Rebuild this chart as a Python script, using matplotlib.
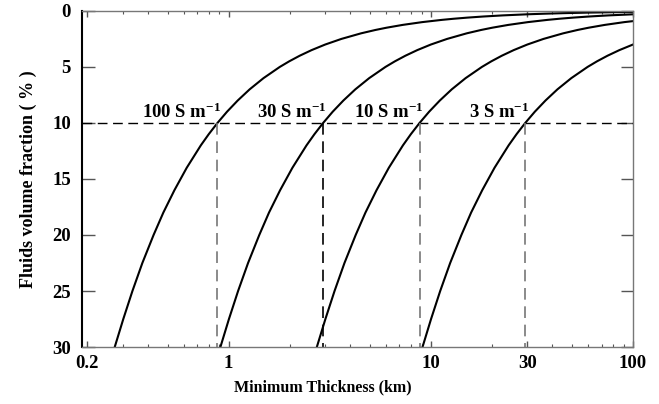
import matplotlib
matplotlib.use('Agg')
import matplotlib.pyplot as plt
from matplotlib.ticker import FixedLocator, NullFormatter, LogLocator

# fluid volume fraction (%) and read-off minimum thickness (km) per conductivity
fraction = [30, 27.5, 25, 22.5, 20, 18, 16, 14, 12, 11, 10, 9, 8, 7, 6, 5, 4.5, 4,
            3.5, 3, 2.5, 2, 1.7, 1.5, 1.25, 1, 0.8, 0.7, 0.6, 0.5, 0.4, 0.3,
            0.25, 0.2, 0.15, 0.1, 0.09]
thick_100 = [0.273, 0.301, 0.334, 0.374, 0.425, 0.475, 0.539, 0.620, 0.728, 0.797,
             0.880, 0.981, 1.108, 1.270, 1.487, 1.790, 1.993, 2.246, 2.571, 3.004,
             3.611, 4.521, 5.325, 6.039, 7.252, 9.073, 11.35, 12.97, 15.14, 18.18,
             22.73, 30.31, 36.38, 45.49, 60.66, 91.0, 101.1]
thick_30 = [0.910, 1.003, 1.113, 1.247, 1.417, 1.583, 1.797, 2.067, 2.427, 2.657,
            2.933, 3.270, 3.693, 4.233, 4.957, 5.967, 6.643, 7.487, 8.570, 10.01,
            12.04, 15.07, 17.75, 20.13, 24.17, 30.24, 37.83, 43.23, 50.47, 60.60,
            75.77, 101.0]
thick_10 = [2.73, 3.01, 3.34, 3.74, 4.25, 4.75, 5.39, 6.20, 7.28, 7.97,
            8.80, 9.81, 11.08, 12.70, 14.87, 17.90, 19.93, 22.46, 25.71, 30.04,
            36.11, 45.21, 53.25, 60.39, 72.52, 90.73, 113.5]
thick_3 = [9.10, 10.03, 11.13, 12.47, 14.17, 15.83, 17.97, 20.67, 24.27, 26.57,
           29.33, 32.70, 36.93, 42.33, 49.57, 59.67, 66.43, 74.87, 85.70, 100.1]

conductivity_labels = ['100', '30', '10', '3']
cross_x = [0.88, 2.93, 8.80, 29.33]   # thickness at 10 % fluids
cross_y = 10

xtick_vals = [0.2, 1, 10, 30, 100]
xtick_labels = ['0.2', '1', '10', '30', '100']
ytick_vals = [0, 5, 10, 15, 20, 25, 30]

plt.rcParams['font.family'] = ['Liberation Serif', 'DejaVu Serif']
plt.rcParams['font.weight'] = 'bold'
plt.rcParams['mathtext.fontset'] = 'custom'
plt.rcParams['mathtext.rm'] = 'Liberation Serif:bold'
plt.rcParams['mathtext.default'] = 'rm'

fig = plt.figure(figsize=(6.59, 4.04), dpi=100)
ax = fig.add_axes([0.1244, 0.141, 0.836, 0.832])

for t in [thick_100, thick_30, thick_10, thick_3]:
    ax.plot(t, fraction[:len(t)], color='black', lw=1.5)

# reference line at 10 % and drop lines
ax.axhline(cross_y, color='black', lw=1.0, dashes=(7, 4))
for i, (x, lab) in enumerate(zip(cross_x, conductivity_labels)):
    col = 'black' if i == 1 else '#777777'
    ax.plot([x, x], [cross_y, 30], color=col, lw=1.2, dashes=(7, 4))
    ax.text(x * 1.045, cross_y - 0.05, lab + ' S m$^{-1}$', ha='right', va='bottom',
            fontsize=13.5, fontweight='bold')

ax.set_xscale('log')
ax.set_xlim(0.188, 100)
ax.set_ylim(30, 0)

ax.xaxis.set_major_locator(FixedLocator(xtick_vals))
ax.set_xticklabels(xtick_labels)
ax.xaxis.set_minor_locator(LogLocator(base=10, subs=range(2, 10)))
ax.xaxis.set_minor_formatter(NullFormatter())
ax.set_yticks(ytick_vals)

ax.tick_params(axis='both', which='both', direction='in', top=True, right=True,
               labelsize=13.5, colors='#555555', labelcolor='black')
ax.tick_params(axis='y', which='major', length=9, width=1, pad=8)
ax.tick_params(axis='x', which='major', length=4, width=1, pad=6)
ax.tick_params(axis='x', which='minor', length=2, width=0.8)
for lab in ax.get_xticklabels() + ax.get_yticklabels():
    lab.set_fontweight('bold')

for side in ['top', 'right', 'bottom']:
    ax.spines[side].set_color('#777777')
    ax.spines[side].set_linewidth(1.0)
ax.spines['left'].set_color('black')
ax.spines['left'].set_linewidth(1.5)

ax.set_xlabel('Minimum Thickness (km)', fontsize=11.5, fontweight='bold')
ax.xaxis.set_label_coords(0.437, -0.095)
ax.set_ylabel('Fluids volume fraction ( % )', fontsize=13, fontweight='bold')
ax.yaxis.set_label_coords(-0.082, 0.5)

fig.savefig('out.png', dpi=100)
